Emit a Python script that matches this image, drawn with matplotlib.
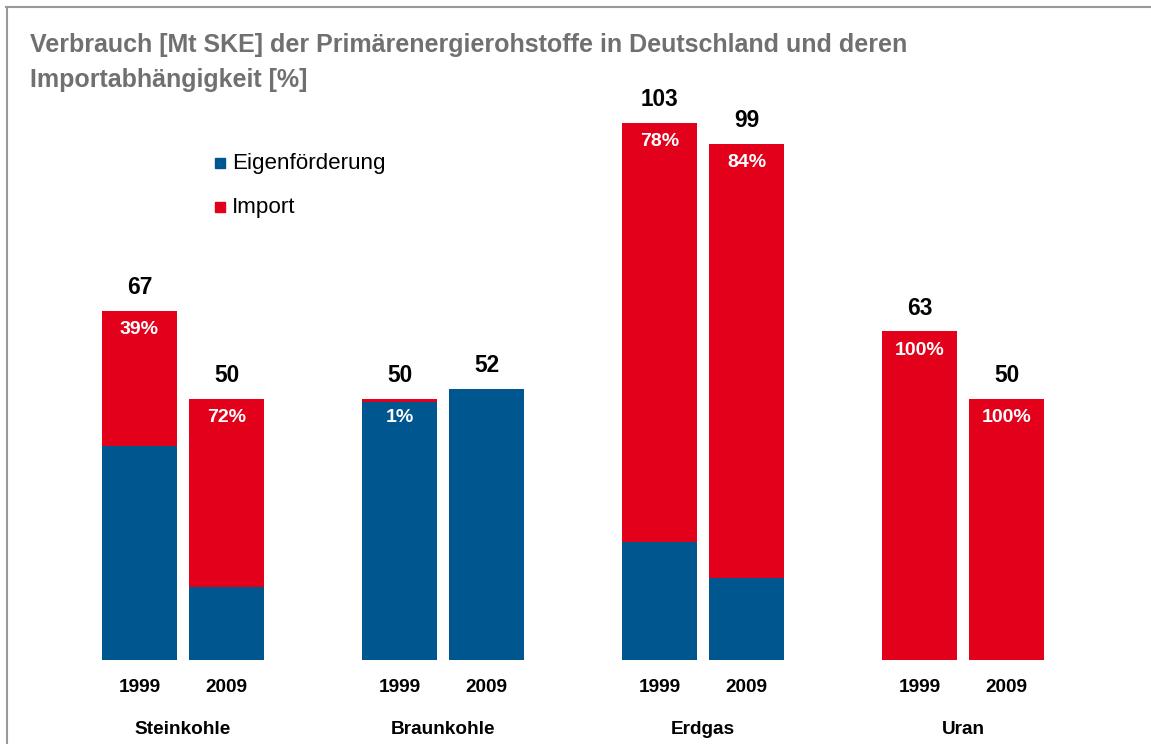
import matplotlib
matplotlib.use("Agg")
import matplotlib.pyplot as plt
import numpy as np

plt.rcParams['font.family'] = ['Liberation Sans', 'DejaVu Sans']

categories = ["Steinkohle", "Braunkohle", "Erdgas", "Uran"]
years = ["1999", "2009"]
# Mt SKE
eigen_1999 = [41, 49.5, 22.7, 0]
import_1999 = [26, 0.5, 80.3, 63]
eigen_2009 = [14, 52, 15.8, 0]
import_2009 = [36, 0, 83.2, 50]
totals_1999 = [67, 50, 103, 63]
totals_2009 = [50, 52, 99, 50]
share_1999 = ["39%", "1%", "78%", "100%"]
share_2009 = ["72%", "", "84%", "100%"]

BLUE = "#00568F"
RED = "#E2001A"

W, H = 1151, 744
fig = plt.figure(figsize=(W / 100, H / 100), dpi=100)

# axes placement in pixels
px_per_unit_y = 5.215
ymax = 110
ax_bottom = 660
ax_top = ax_bottom - ymax * px_per_unit_y
x0_px, unit_x = 183, 260
xmin, xmax = -0.7, 3.7
ax_left = x0_px + xmin * unit_x
ax_right = x0_px + xmax * unit_x
ax = fig.add_axes([ax_left / W, 1 - ax_bottom / H, (ax_right - ax_left) / W,
                   (ax_bottom - ax_top) / H])
ax.set_xlim(xmin, xmax)
ax.set_ylim(0, ymax)
ax.axis("off")

x = np.arange(len(categories))
off = 43.5 / unit_x
bw = 75 / unit_x

for xs, eig, imp, tot, shr in [(x - off, eigen_1999, import_1999, totals_1999, share_1999),
                               (x + off, eigen_2009, import_2009, totals_2009, share_2009)]:
    ax.bar(xs, eig, width=bw, color=BLUE, linewidth=0)
    ax.bar(xs, imp, width=bw, bottom=eig, color=RED, linewidth=0)
    for xi, t, s, e in zip(xs, tot, shr, eig):
        ax.annotate(str(t), (xi, t), xytext=(0, 8.5), textcoords="offset points",
                    ha="center", va="bottom", fontsize=16.3, fontweight="bold", color="black")
        if s:
            ax.annotate(s, (xi, t), xytext=(0, -13.5), textcoords="offset points",
                        ha="center", va="center", fontsize=14, fontweight="bold", color="white")

# year and category labels
for i, c in enumerate(categories):
    for j, yr in enumerate(years):
        xi = i + (-off if j == 0 else off)
        ax.annotate(yr, (xi, 0), xytext=(0, -19.5), textcoords="offset points",
                    ha="center", va="center", fontsize=13.7, fontweight="bold", annotation_clip=False)
    ax.annotate(c, (i, 0), xytext=(0, -50), textcoords="offset points",
                ha="center", va="center", fontsize=13.7, fontweight="bold", annotation_clip=False)

# legend
fig.text(232 / W, 1 - 163 / H, "Eigenförderung", fontsize=16.1, va="center", ha="left")
fig.text(232 / W, 1 - 207 / H, "Import", fontsize=16.1, va="center", ha="left")
fig.patches.append(plt.Rectangle((215 / W, 1 - 168 / H), 10 / W, 10 / H,
                                 transform=fig.transFigure, color=BLUE, figure=fig))
fig.patches.append(plt.Rectangle((215 / W, 1 - 212 / H), 10 / W, 10 / H,
                                 transform=fig.transFigure, color=RED, figure=fig))

# title
fig.text(30 / W, 1 - 45 / H, "Verbrauch [Mt SKE] der Primärenergierohstoffe in Deutschland und deren",
         fontsize=18, fontweight="bold", color="#707070", va="center", ha="left")
fig.text(30 / W, 1 - 80 / H, "Importabhängigkeit [%]",
         fontsize=18, fontweight="bold", color="#707070", va="center", ha="left")

# border lines (top and left)
fig.add_artist(plt.Line2D([6 / W, 1], [1 - 6.5 / H, 1 - 6.5 / H], transform=fig.transFigure,
                          color="#999999", linewidth=1.5))
fig.add_artist(plt.Line2D([6.5 / W, 6.5 / W], [0, 1 - 6.5 / H], transform=fig.transFigure,
                          color="#999999", linewidth=1.5))

fig.savefig("out.png", dpi=100)
